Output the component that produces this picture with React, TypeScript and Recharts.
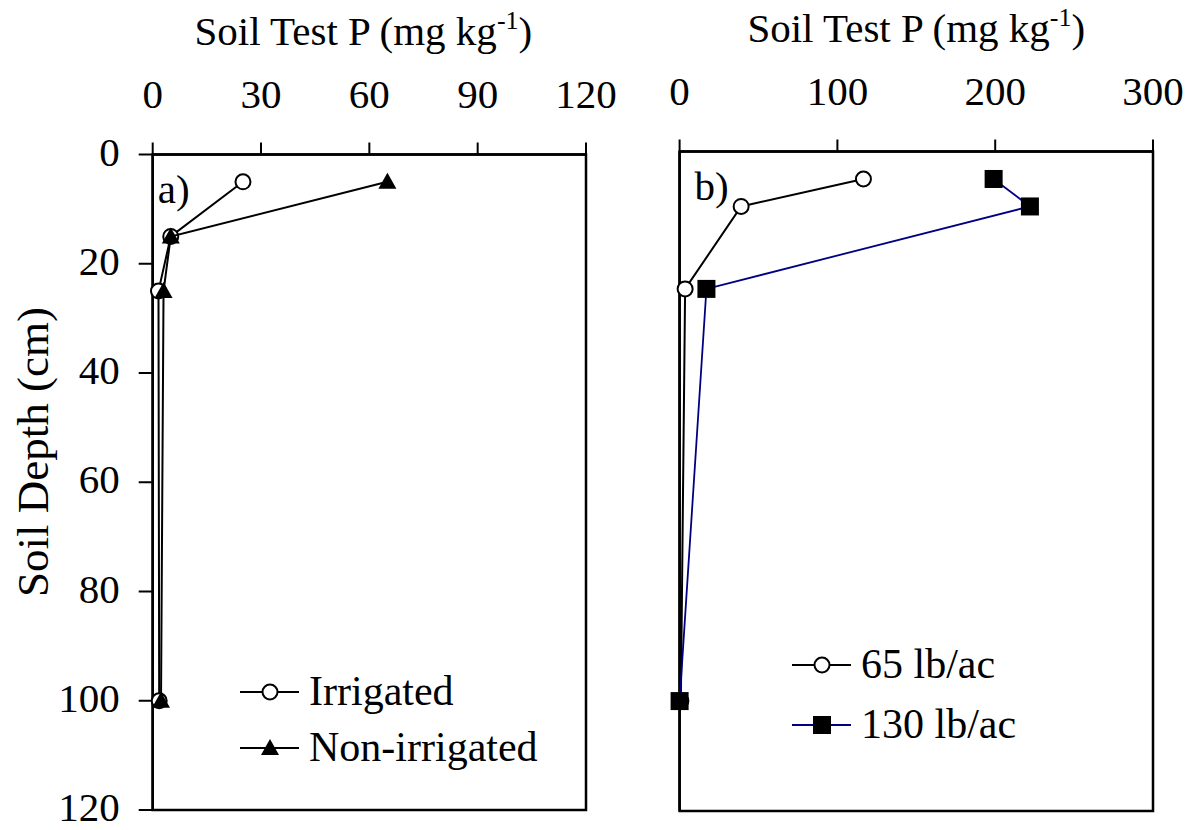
import { ScatterChart, Scatter, XAxis, YAxis, ReferenceArea, Legend } from "recharts";

const FONT = "'Liberation Serif', 'Times New Roman', serif";

// panel a) depth profile, irrigated vs non-irrigated
const depthA = [5, 15, 25, 100];
const irrigated = [25, 5, 1.6, 1.8];
const nonIrrigated = [65, 5, 3, 2.3];
const ticksA = [0, 30, 60, 90, 120];

// panel b) depth profile by P rate
const depthB = [5, 10, 25, 100];
const rate65 = [116.5, 39, 3.5, 0.8];
const rate130 = [199, 222, 17, 0];
const ticksB = [0, 100, 200, 300];

const depthTicks = [0, 20, 40, 60, 80, 100, 120];
const seriesNamesA = ["Irrigated", "Non-irrigated"];
const seriesNamesB = ["65 lb/ac", "130 lb/ac"];

const toPoints = (xs: number[], ys: number[]) => xs.map((x, i) => ({ x, y: ys[i] }));

const OpenCircle = (p: any) => (
	<circle cx={p.cx} cy={p.cy} r={7.5} fill='#fff' stroke='#000' strokeWidth={2} />
);
const Triangle = (p: any) => (
	<path d={`M${p.cx},${p.cy - 9} L${p.cx + 9},${p.cy + 7} L${p.cx - 9},${p.cy + 7} Z`} fill='#000' />
);
const Square = (p: any) => <rect x={p.cx - 9} y={p.cy - 9} width={18} height={18} fill='#000' />;

const XTick = ({ x, y, payload }: any) => (
	<text x={x} y={y} textAnchor='middle' fontSize={41} fontFamily={FONT} fill='#000'>
		{payload.value}
	</text>
);
const YTick = ({ x, y, payload }: any) => (
	<text x={x} y={y} dy={11} textAnchor='end' fontSize={41} fontFamily={FONT} fill='#000'>
		{payload.value}
	</text>
);

function LegendBox({ items, gap }: { items: { name: string; color: string; Shape: any }[]; gap: number }) {
	return (
		<svg width={340} height={140}>
			{items.map((it, i) => (
				<g key={it.name} transform={`translate(0, ${24 + i * gap})`}>
					<line x1={2} x2={61} y1={0} y2={0} stroke={it.color} strokeWidth={2} />
					<it.Shape cx={32} cy={0} />
					<text x={71} y={13} fontSize={42} fontFamily={FONT} fill='#000'>
						{it.name}
					</text>
				</g>
			))}
		</svg>
	);
}

function Title({ viewBox, dx }: any) {
	const cx = viewBox.x + viewBox.width / 2 + dx;
	return (
		<text x={cx} y={viewBox.y - 110} textAnchor='middle' fontSize={41} fontFamily={FONT} fill='#000'>
			Soil Test P (mg kg<tspan dy={-16} fontSize={26}>-1</tspan>
			<tspan dy={16}>)</tspan>
		</text>
	);
}

function PanelTag({ viewBox, text, dx }: any) {
	return (
		<text x={viewBox.x + dx} y={viewBox.y + 48} fontSize={41} fontFamily={FONT} fill='#000'>
			{text}
		</text>
	);
}

function DepthLabel() {
	return (
		<text
			x={48}
			y={452}
			transform='rotate(-90 48 452)'
			textAnchor='middle'
			fontSize={45}
			fontFamily={FONT}
			fill='#000'
		>
			Soil Depth (cm)
		</text>
	);
}

function Panel({
	width,
	margin,
	yWidth,
	domainMax,
	ticks,
	series,
	tag,
	tagDx,
	titleDx,
	showDepthLabels,
	legendPos,
	legendGap,
}: any) {
	return (
		<ScatterChart width={width} height={830} margin={margin}>
			<XAxis
				type='number'
				dataKey='x'
				orientation='top'
				domain={[0, domainMax]}
				ticks={ticks}
				height={60}
				tickSize={12}
				tickMargin={35}
				tick={<XTick />}
				axisLine={{ stroke: "#000", strokeWidth: 2.5 }}
				tickLine={{ stroke: "#000", strokeWidth: 2 }}
			/>
			<YAxis
				type='number'
				dataKey='y'
				reversed
				domain={[0, 120]}
				ticks={depthTicks}
				width={yWidth}
				tickSize={14}
				tickMargin={19}
				tick={showDepthLabels ? <YTick /> : false}
				axisLine={{ stroke: "#000", strokeWidth: 2.5 }}
				tickLine={{ stroke: "#000", strokeWidth: 2 }}
				label={showDepthLabels ? { content: () => <DepthLabel /> } : undefined}
			/>
			<ReferenceArea
				x1={0}
				x2={domainMax}
				y1={0}
				y2={120}
				fill='none'
				stroke='#000'
				strokeWidth={2.5}
				ifOverflow='visible'
				label={{
					content: (props: any) => (
						<g>
							<Title viewBox={props.viewBox} dx={titleDx} />
							<PanelTag viewBox={props.viewBox} text={tag} dx={tagDx} />
						</g>
					),
				}}
			/>
			{series.map((s: any) => (
				<Scatter
					key={s.name}
					name={s.name}
					data={s.data}
					line={{ stroke: s.color, strokeWidth: s.lineWidth }}
					shape={s.Shape}
					isAnimationActive={false}
				/>
			))}
			<Legend
				layout='vertical'
				align='center'
				verticalAlign='middle'
				wrapperStyle={{ left: legendPos.left, top: legendPos.top, width: 340 }}
				content={() => <LegendBox items={series} gap={legendGap} />}
			/>
		</ScatterChart>
	);
}

export default function App() {
	const seriesA = [
		{ name: seriesNamesA[0], data: toPoints(irrigated, depthA), color: "#000", lineWidth: 2, Shape: OpenCircle },
		{ name: seriesNamesA[1], data: toPoints(nonIrrigated, depthA), color: "#000", lineWidth: 2, Shape: Triangle },
	];
	const seriesB = [
		{ name: seriesNamesB[0], data: toPoints(rate65, depthB), color: "#000", lineWidth: 2, Shape: OpenCircle },
		{ name: seriesNamesB[1], data: toPoints(rate130, depthB), color: "#000080", lineWidth: 1.8, Shape: Square },
	];
	return (
		<div style={{ position: "absolute", left: 0, top: 0, width: 1193, height: 830, background: "#fff" }}>
			<div style={{ position: "absolute", left: 0, top: 0 }}>
				<Panel
					width={620}
					margin={{ top: 94.5, left: 92.7, right: 34, bottom: 20 }}
					yWidth={60}
					domainMax={120}
					ticks={ticksA}
					series={seriesA}
					tag='a)'
					tagDx={5}
					titleDx={-6}
					showDepthLabels
					legendPos={{ left: 238, top: 668 }}
					legendGap={56}
				/>
			</div>
			<div style={{ position: "absolute", left: 620, top: 0 }}>
				<Panel
					width={573}
					margin={{ top: 91.5, left: 19.6, right: 40, bottom: 19 }}
					yWidth={40}
					domainMax={300}
					ticks={ticksB}
					series={seriesB}
					tag='b)'
					tagDx={15}
					titleDx={0}
					showDepthLabels={false}
					legendPos={{ left: 170, top: 641 }}
					legendGap={60}
				/>
			</div>
		</div>
	);
}
